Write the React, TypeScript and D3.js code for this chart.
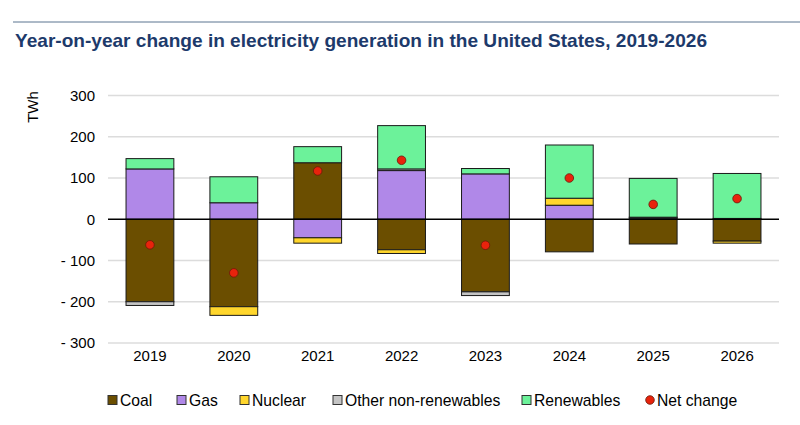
import * as d3 from "d3";

const YEARS = ["2019", "2020", "2021", "2022", "2023", "2024", "2025", "2026"];
const SERIES = ["Coal", "Gas", "Nuclear", "Other non-renewables", "Renewables"];
const COAL = [-200, -212, 137, -74, -176, -79, -60, -53];
const GAS = [122, 40, -45, 118, 110, 34, 3, 0];
const NUCLEAR = [0, -21, -13, -9, 0, 17, 0, -5];
const OTHER = [-9, 0, 0, 4, -9, 0, 2, 2];
const RENEWABLES = [25, 63, 39, 105, 13, 129, 94, 109];
const NET_CHANGE = [-62, -130, 117, 143, -63, 100, 36, 50];
const Y_TICKS = [300, 200, 100, 0, -100, -200, -300];

const COLORS = ["#6b4e00", "#b088e8", "#ffd62c", "#c4c4c4", "#6cf29a"];
const NET_COLOR = "#e8230c";
const FONT = "'Liberation Sans', Arial, sans-serif";

const WIDTH = 800;
const HEIGHT = 425;
const plot = { left: 108, right: 779, top: 95.5, bottom: 343 };

export default function App() {
  const values = [COAL, GAS, NUCLEAR, OTHER, RENEWABLES];
  const rows = YEARS.map((year, i) => {
    const row: Record<string, number | string> = { year };
    SERIES.forEach((s, k) => (row[s] = values[k][i]));
    return row;
  });

  const stacked = d3
    .stack<Record<string, number | string>>()
    .keys(SERIES)
    .value((d, key) => d[key] as number)
    .offset(d3.stackOffsetDiverging)(rows);

  const x = d3
    .scaleBand()
    .domain(YEARS)
    .range([plot.left, plot.right])
    .paddingInner(0.43)
    .paddingOuter(0.215);

  const y = d3.scaleLinear().domain([-300, 300]).range([plot.bottom, plot.top]);

  const legendItems = [
    { label: "Coal", x: 108, color: COLORS[0] },
    { label: "Gas", x: 177, color: COLORS[1] },
    { label: "Nuclear", x: 240, color: COLORS[2] },
    { label: "Other non-renewables", x: 333, color: COLORS[3] },
    { label: "Renewables", x: 522, color: COLORS[4] },
  ];

  return (
    <svg
      width={WIDTH}
      height={HEIGHT}
      style={{ position: "absolute", left: 0, top: 0, background: "#fff" }}
      fontFamily={FONT}
    >
      <line x1={13} x2={800} y1={22} y2={22} stroke="#5a7490" strokeWidth={1} />
      <text
        x={15}
        y={47}
        fontSize={19}
        fontWeight="bold"
        fill="#1d3a6b"
        textLength={692}
        lengthAdjust="spacingAndGlyphs"
      >
        Year-on-year change in electricity generation in the United States, 2019-2026
      </text>

      {/* gridlines */}
      {Y_TICKS.filter((t) => t !== 0).map((t) => (
        <line
          key={t}
          x1={plot.left}
          x2={plot.right}
          y1={y(t)}
          y2={y(t)}
          stroke="#dcdcdc"
          strokeWidth={1.5}
        />
      ))}

      {/* y tick labels */}
      {Y_TICKS.map((t) => (
        <text
          key={t}
          x={95}
          y={y(t)}
          dy="0.35em"
          textAnchor="end"
          fontSize={15}
          fill="#000"
        >
          {t < 0 ? `- ${Math.abs(t)}` : t}
        </text>
      ))}

      <text
        transform={`translate(38,107) rotate(-90)`}
        textAnchor="middle"
        fontSize={15}
        fill="#000"
      >
        TWh
      </text>

      {/* stacked bars */}
      {stacked.map((layer, k) =>
        layer.map((d, i) => {
          const h = Math.abs(y(d[0]) - y(d[1]));
          if (h === 0) return null;
          return (
            <rect
              key={`${k}-${i}`}
              x={x(YEARS[i])}
              y={Math.min(y(d[0]), y(d[1]))}
              width={x.bandwidth()}
              height={h}
              fill={COLORS[k]}
              stroke="#1a1a1a"
              strokeWidth={1}
            />
          );
        })
      )}

      {/* zero line */}
      <line
        x1={plot.left}
        x2={plot.right}
        y1={y(0)}
        y2={y(0)}
        stroke="#000"
        strokeWidth={1.3}
      />

      {/* net change dots */}
      {NET_CHANGE.map((v, i) => (
        <circle
          key={YEARS[i]}
          cx={x(YEARS[i])! + x.bandwidth() / 2}
          cy={y(v)}
          r={4.3}
          fill={NET_COLOR}
          stroke="#6a1a0a"
          strokeWidth={0.8}
        />
      ))}

      {/* x labels */}
      {YEARS.map((yr) => (
        <text
          key={yr}
          x={x(yr)! + x.bandwidth() / 2}
          y={361}
          textAnchor="middle"
          fontSize={15}
          fill="#000"
        >
          {yr}
        </text>
      ))}

      {/* legend */}
      {legendItems.map((item) => (
        <g key={item.label} transform={`translate(${item.x},400)`}>
          <rect
            x={0}
            y={-4.5}
            width={9}
            height={9}
            fill={item.color}
            stroke="#333"
            strokeWidth={1}
          />
          <text x={12} y={0} dy="0.35em" fontSize={15.7} fill="#000">
            {item.label}
          </text>
        </g>
      ))}
      <g transform="translate(650,400)">
        <circle cx={0} cy={0} r={4.3} fill={NET_COLOR} stroke="#6a1a0a" strokeWidth={0.8} />
        <text x={7} y={0} dy="0.35em" fontSize={15.7} fill="#000">
          Net change
        </text>
      </g>
    </svg>
  );
}
